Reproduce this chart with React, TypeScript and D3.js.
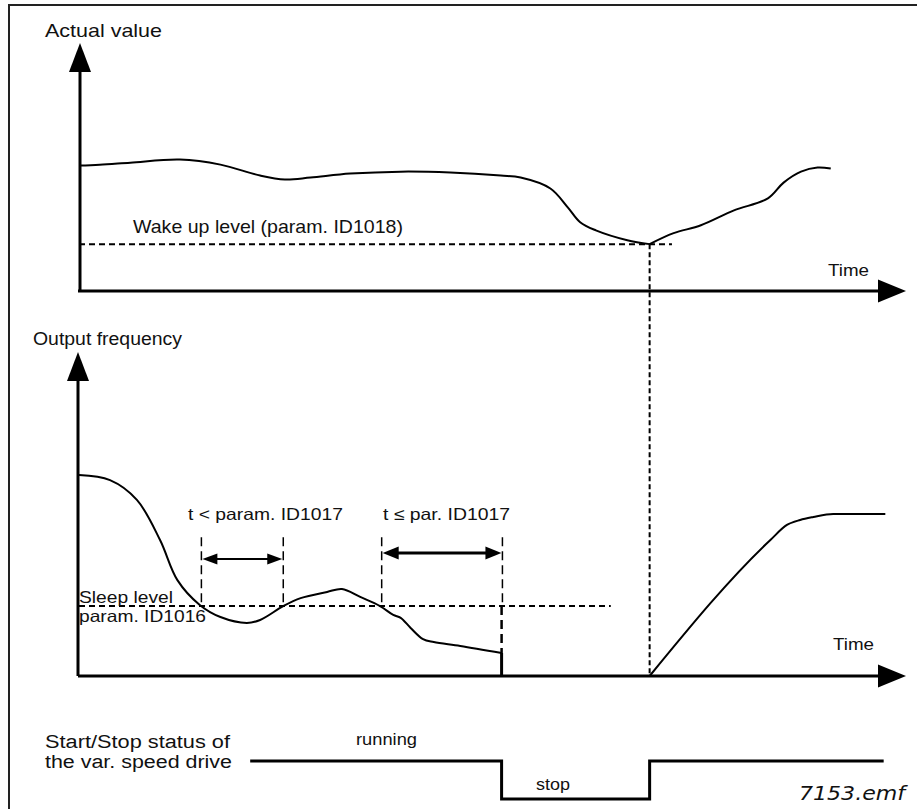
import React, { useRef, useEffect } from "react";
import * as d3 from "d3";

// Actual value (top panel), time 0..100, value 0..100 (100 = base of y arrow)
const actualTime = [0, 2.5, 6.2, 12.2, 17.1, 21.9, 24.9, 28.0, 32.8, 38.9, 44.9, 51.0, 53.4, 57.0, 59.1, 60.6, 62.5, 66.3, 69.0];
const actualValue = [57.3, 57.7, 58.6, 60.0, 57.7, 52.7, 50.9, 51.8, 53.6, 54.5, 54.1, 52.7, 51.8, 46.8, 38.2, 31.4, 27.7, 23.2, 21.4];
const actualRiseTime = [69.0, 71.9, 75.2, 79.2, 83.3, 85.2, 87.3, 89.3, 90.9];
const actualRiseValue = [21.4, 26.4, 30.0, 36.8, 42.3, 49.5, 54.5, 56.4, 55.9];
const wakeLevel = 21.4;
const wakeLevelEnd = 71.7;
const wakeTime = 69.0;

// Output frequency (middle panel)
const freqTime = [0, 3.75, 7.0, 9.8, 11.9, 14.6, 17.1, 20.3, 21.9, 24.7, 26.8, 30.0, 31.8, 34.0, 36.4, 38.0, 38.9, 40.1, 41.6, 42.9, 46.1, 51.1];
const freqValue = [68.1, 66.4, 59.7, 46.1, 32.5, 24.1, 20.0, 18.0, 19.0, 23.7, 26.4, 28.5, 29.5, 26.8, 23.7, 20.7, 19.7, 16.3, 12.5, 11.5, 10.2, 7.8];
const stopTime = 51.1;
const rampTime = [69.0, 83.6, 85.6, 87.2, 88.8, 91.2, 97.5];
const rampValue = [0, 46.1, 51.2, 52.9, 53.9, 54.9, 54.9];
const sleepLevel = 23.7;
const sleepLevelEnd = 64.3;
const delayStart = [14.8, 36.6];
const delayEnd = [24.7, 51.2];
const delayArrowValue = [39.7, 41.7];
const delayTop = 47;

// Start/Stop status
const statusTime = [20.7, 51.1, 69.0, 97.3];
const statusState = ["running", "stop", "running", "running"];

const W = 917;
const H = 809;
const FONT = "'Liberation Sans', Arial, sans-serif";

const App: React.FC = () => {
  const svgRef = useRef<SVGSVGElement>(null);

  useEffect(() => {
    if (!svgRef.current) return;
    const svg = d3.select(svgRef.current);
    svg.selectAll("*").remove();

    const x = d3.scaleLinear().domain([0, 100]).range([79, 906]);
    const yTop = d3.scaleLinear().domain([0, 100]).range([291, 72]);
    const yMid = d3.scaleLinear().domain([0, 100]).range([676, 381]);
    const yStatus = d3.scalePoint<string>().domain(["stop", "running"]).range([799, 761]);

    // frame
    svg.append("path")
      .attr("d", `M9,${H + 5} L9,5 L${W + 5},5`)
      .attr("fill", "none")
      .attr("stroke", "#222")
      .attr("stroke-width", 2);

    const tri = (pts: [number, number][]) =>
      svg.append("path").attr("d", "M" + pts.map((p) => p.join(",")).join("L") + "Z").attr("fill", "#000");

    const axes = (y: d3.ScaleLinear<number, number>, ax: number) => {
      const x0 = x(0);
      svg.append("line")
        .attr("x1", ax).attr("x2", ax)
        .attr("y1", y(0)).attr("y2", y(100))
        .attr("stroke", "#000").attr("stroke-width", 3);
      tri([[ax - 11, y(100)], [ax + 11, y(100)], [ax, y(100) - 29]]);
      svg.append("line")
        .attr("x1", x0 - 1).attr("x2", x(100) - 28)
        .attr("y1", y(0)).attr("y2", y(0))
        .attr("stroke", "#000").attr("stroke-width", 3);
      tri([[x(100) - 28, y(0) - 11.5], [x(100) - 28, y(0) + 11.5], [x(100), y(0)]]);
    };
    axes(yTop, 80);
    axes(yMid, 78);

    const text = (s: string, tx: number, ty: number, size: number, len: number, italic = false) =>
      svg.append("text")
        .attr("x", tx).attr("y", ty)
        .attr("font-family", italic ? "'DejaVu Sans', Verdana, sans-serif" : FONT)
        .attr("font-style", italic ? "italic" : "normal")
        .attr("font-size", size)
        .attr("textLength", len)
        .attr("lengthAdjust", "spacingAndGlyphs")
        .attr("fill", "#111")
        .text(s);

    // top panel
    const lineTop = d3.line<number>()
      .x((_, i) => x(actualTime[i]))
      .y((d) => yTop(d))
      .curve(d3.curveCatmullRom.alpha(0.5));
    const lineTopRise = d3.line<number>()
      .x((_, i) => x(actualRiseTime[i]))
      .y((d) => yTop(d))
      .curve(d3.curveCatmullRom.alpha(0.5));

    svg.append("line")
      .attr("x1", x(0)).attr("x2", x(wakeLevelEnd))
      .attr("y1", yTop(wakeLevel)).attr("y2", yTop(wakeLevel))
      .attr("stroke", "#000").attr("stroke-width", 2).attr("stroke-dasharray", "6,4");

    svg.append("path").datum(actualValue).attr("d", lineTop)
      .attr("fill", "none").attr("stroke", "#000").attr("stroke-width", 2);
    svg.append("path").datum(actualRiseValue).attr("d", lineTopRise)
      .attr("fill", "none").attr("stroke", "#000").attr("stroke-width", 2);

    // wake-up vertical
    svg.append("line")
      .attr("x1", x(wakeTime)).attr("x2", x(wakeTime))
      .attr("y1", yTop(wakeLevel)).attr("y2", yMid(0))
      .attr("stroke", "#000").attr("stroke-width", 2).attr("stroke-dasharray", "5,3");

    text("Actual value", 45, 37, 18.5, 117);
    text("Wake up level (param. ID1018)", 133, 233, 18.5, 270);
    text("Time", 828, 276, 17, 41);

    // middle panel
    svg.append("line")
      .attr("x1", x(0)).attr("x2", x(sleepLevelEnd))
      .attr("y1", yMid(sleepLevel)).attr("y2", yMid(sleepLevel))
      .attr("stroke", "#000").attr("stroke-width", 2).attr("stroke-dasharray", "6,4");

    delayStart.forEach((t0, i) => {
      const t1 = delayEnd[i];
      [t0, t1].forEach((t) => {
        svg.append("line")
          .attr("x1", x(t)).attr("x2", x(t))
          .attr("y1", yMid(delayTop)).attr("y2", yMid(sleepLevel))
          .attr("stroke", "#000").attr("stroke-width", 1.5).attr("stroke-dasharray", "9,5");
      });
      const ay = yMid(delayArrowValue[i]);
      const hl = i === 0 ? 16 : 17;
      const hh = i === 0 ? 5.5 : 6.5;
      svg.append("line")
        .attr("x1", x(t0) + hl - 2).attr("x2", x(t1) - hl + 2)
        .attr("y1", ay).attr("y2", ay)
        .attr("stroke", "#000").attr("stroke-width", i === 0 ? 2 : 3);
      tri([[x(t0) + 1, ay], [x(t0) + hl, ay - hh], [x(t0) + hl, ay + hh]]);
      tri([[x(t1) - 1, ay], [x(t1) - hl, ay - hh], [x(t1) - hl, ay + hh]]);
    });

    // lower part of stop marker
    svg.append("line")
      .attr("x1", x(stopTime)).attr("x2", x(stopTime))
      .attr("y1", yMid(sleepLevel)).attr("y2", yMid(freqValue[freqValue.length - 1]))
      .attr("stroke", "#000").attr("stroke-width", 2.5).attr("stroke-dasharray", "9,5");
    svg.append("line")
      .attr("x1", x(stopTime)).attr("x2", x(stopTime))
      .attr("y1", yMid(freqValue[freqValue.length - 1])).attr("y2", yMid(0))
      .attr("stroke", "#000").attr("stroke-width", 3);

    const lineFreq = d3.line<number>()
      .x((_, i) => x(freqTime[i]))
      .y((d) => yMid(d))
      .curve(d3.curveCatmullRom.alpha(0.5));
    svg.append("path").datum(freqValue).attr("d", lineFreq)
      .attr("fill", "none").attr("stroke", "#000").attr("stroke-width", 2);

    const lineRamp = d3.line<number>()
      .x((_, i) => x(rampTime[i]))
      .y((d) => yMid(d))
      .curve(d3.curveMonotoneX);
    svg.append("path").datum(rampValue).attr("d", lineRamp)
      .attr("fill", "none").attr("stroke", "#000").attr("stroke-width", 2);

    text("Output frequency", 33, 345, 17.5, 149);
    text("t < param. ID1017", 188, 520, 16.5, 155);
    text("t \u2264 par. ID1017", 383, 520, 16.5, 127);
    text("Sleep level", 79, 603, 16.5, 94);
    text("param. ID1016", 79, 622, 16.5, 127);
    text("Time", 833, 650, 17, 41);

    // status
    const lineStatus = d3.line<string>()
      .x((_, i) => x(statusTime[i]))
      .y((d) => yStatus(d) ?? 0)
      .curve(d3.curveStepAfter);
    svg.append("path").datum(statusState).attr("d", lineStatus)
      .attr("fill", "none").attr("stroke", "#000").attr("stroke-width", 3);

    text("Start/Stop status of", 45, 748, 18, 185);
    text("the var. speed drive", 45, 768, 18, 187);
    text("running", 356, 745, 17, 61);
    text("stop", 536, 790, 17, 34);
    text("7153.emf", 799, 800, 20, 106, true);
  }, []);

  return (
    <svg
      ref={svgRef}
      width={W}
      height={H}
      style={{ position: "absolute", left: 0, top: 0, background: "#fff" }}
    />
  );
};

export default App;
